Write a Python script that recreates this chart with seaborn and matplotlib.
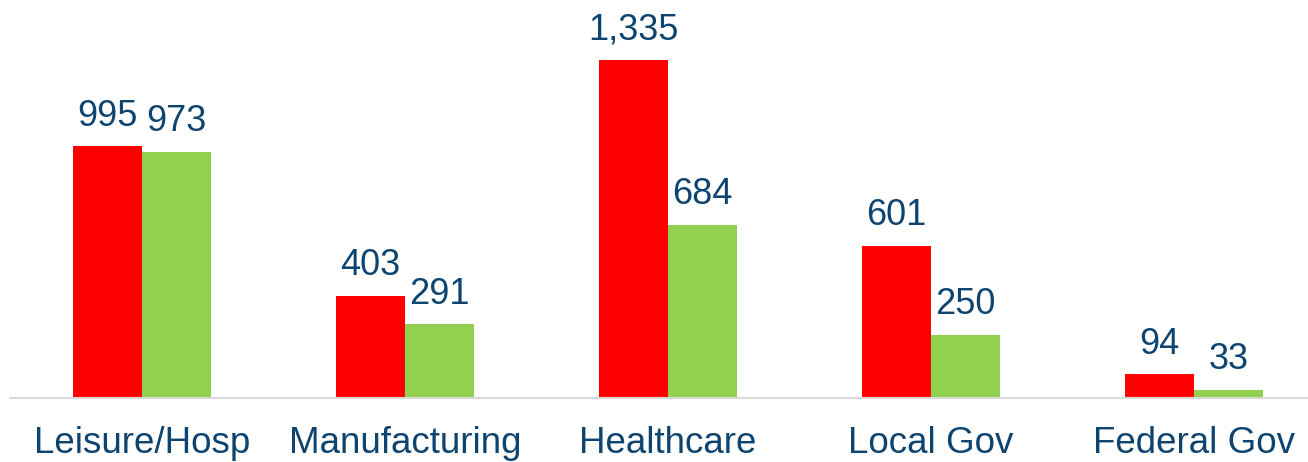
import matplotlib
matplotlib.use("Agg")
import matplotlib.pyplot as plt
import seaborn as sns
import pandas as pd

categories = ["Leisure/Hosp", "Manufacturing", "Healthcare", "Local Gov", "Federal Gov"]
series_names = ["Series 1", "Series 2"]
series1 = [995, 403, 1335, 601, 94]
series2 = [973, 291, 684, 250, 33]
colors = ["#FF0000", "#92D050"]
text_color = "#0E4470"

df = pd.DataFrame({
    "category": categories * 2,
    "series": [series_names[0]] * 5 + [series_names[1]] * 5,
    "value": series1 + series2,
})

sns.set_theme(style="white")
plt.rcParams["font.family"] = ["Liberation Sans", "DejaVu Sans"]

fig = plt.figure(figsize=(13.08, 4.62), dpi=100)
ax = fig.add_axes([0, 64 / 462, 1, 398 / 462])

sns.barplot(data=df, x="category", y="value", hue="series", order=categories,
            hue_order=series_names, palette=colors, width=0.525, gap=0,
            saturation=1, legend=False, ax=ax, edgecolor="none", linewidth=0)

for cont in ax.containers:
    labels = [f"{v:,.0f}" for v in cont.datavalues]
    ax.bar_label(cont, labels=labels, padding=9, fontsize=26, color=text_color)

ax.set_xlim(-142 / 263, (1308 - 142) / 263)
ax.set_ylim(0, 398 / 0.2532)
ax.set_xlabel("")
ax.set_ylabel("")
ax.set_yticks([])
for s in ["left", "right", "top"]:
    ax.spines[s].set_visible(False)
ax.spines["bottom"].set_color("#D9D9D9")
ax.spines["bottom"].set_linewidth(1.5)
ax.spines["bottom"].set_bounds(-0.5, (1308 - 142) / 263)
ax.tick_params(axis="x", length=0, pad=20.5, labelsize=26.5, labelcolor=text_color)

fig.savefig("out.png", dpi=100)
